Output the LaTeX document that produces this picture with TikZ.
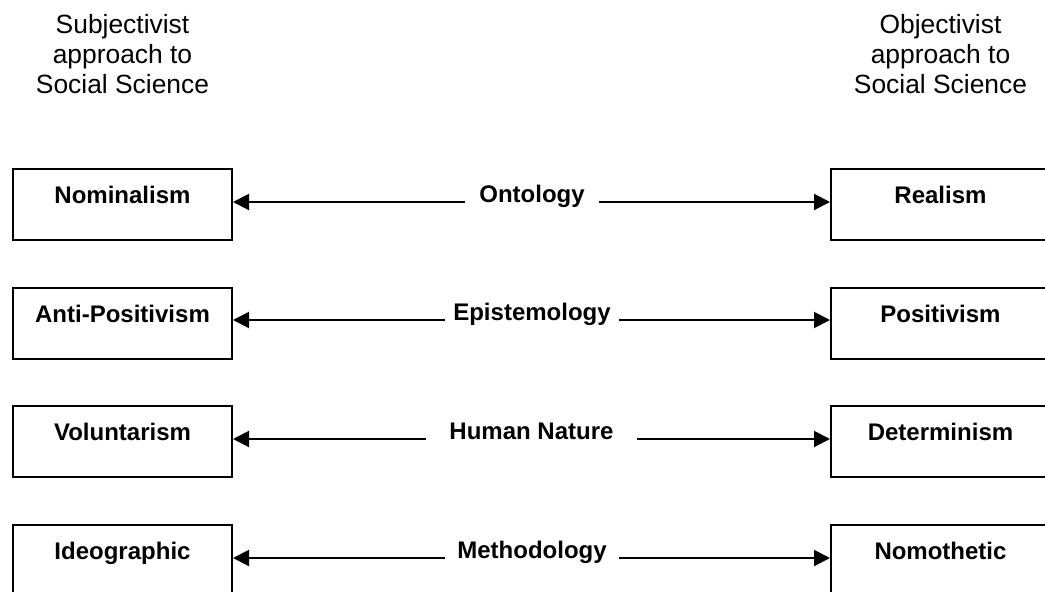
\documentclass[tikz,border=0pt]{standalone}
\usepackage{fontspec}
\setmainfont{Liberation Sans}
\usepackage{tikz}
\usetikzlibrary{arrows.meta}

\begin{document}
\begin{tikzpicture}[
  x=1pt, y=-1pt,
  box/.style={draw, line width=2pt, minimum width=219pt, inner xsep=0pt, inner ysep=0pt, text height=34.6pt, text depth=36.4pt, font=\fontsize{24}{28}\selectfont\bfseries},
  dim/.style={inner sep=0pt, text height=17pt, text depth=0pt, font=\fontsize{24}{28}\selectfont\bfseries},
  head/.style={align=center, inner sep=0pt, font=\fontsize{26.4}{30}\selectfont},
  conn/.style={line width=2pt, -{Triangle[length=16pt,width=16pt]}}
]
  \useasboundingbox (0,0) rectangle (1045,592);
  \clip (0,0) rectangle (1045,592);

  % two ends of the scale
  \node[head, anchor=north] (subj) at (122.5,14) {Subjectivist\\approach to\\Social Science};
  \node[head, anchor=north] (obj) at (940.5,14) {Objectivist\\approach to\\Social Science};

  % assumptions, one row each
  \node[box, anchor=north] (nomi) at (122.5,168) {Nominalism};
  \node[box, anchor=north] (real) at (940.5,168) {Realism};
  \node[dim, minimum width=134pt, anchor=base] (onto) at (532,202) {Ontology};

  \node[box, anchor=north] (anti) at (122.5,287) {Anti-Positivism};
  \node[box, anchor=north] (posi) at (940.5,287) {Positivism};
  \node[dim, minimum width=174pt, anchor=base] (epis) at (532,320) {Epistemology};

  \node[box, anchor=north] (volu) at (122.5,405) {Voluntarism};
  \node[box, anchor=north] (dete) at (940.5,405) {Determinism};
  \node[dim, minimum width=211pt, anchor=base] (huma) at (531.5,439) {Human Nature};

  \node[box, anchor=north] (ideo) at (122.5,524) {Ideographic};
  \node[box, anchor=north] (nomo) at (940.5,524) {Nomothetic};
  \node[dim, minimum width=174pt, anchor=base] (meth) at (532,558) {Methodology};

  \draw[conn] (onto.base west) -- (nomi.east |- onto.base);
  \draw[conn] (onto.base east) -- (real.west |- onto.base);
  \draw[conn] (epis.base west) -- (anti.east |- epis.base);
  \draw[conn] (epis.base east) -- (posi.west |- epis.base);
  \draw[conn] (huma.base west) -- (volu.east |- huma.base);
  \draw[conn] (huma.base east) -- (dete.west |- huma.base);
  \draw[conn] (meth.base west) -- (ideo.east |- meth.base);
  \draw[conn] (meth.base east) -- (nomo.west |- meth.base);

\end{tikzpicture}
\end{document}
